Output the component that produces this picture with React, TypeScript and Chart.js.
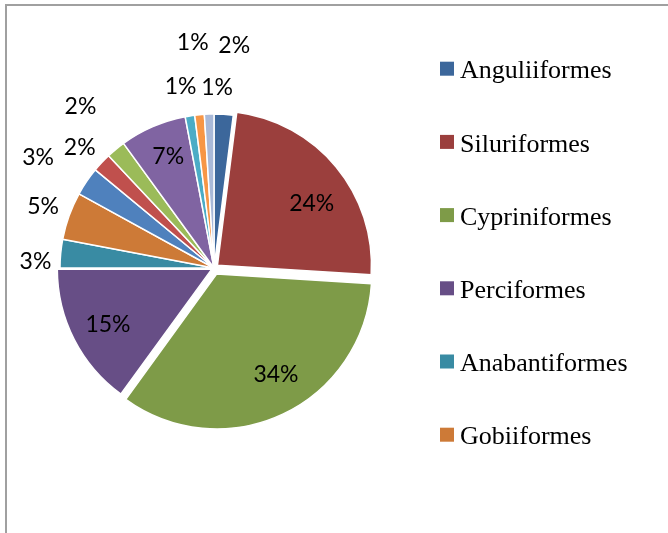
import React, { useEffect, useRef } from "react";
import { Chart, registerables } from "chart.js";

Chart.register(...registerables);

// ---- data ----
const categories = [
  "Anguliiformes",
  "Siluriformes",
  "Cypriniformes",
  "Perciformes",
  "Anabantiformes",
  "Gobiiformes",
  "7",
  "8",
  "9",
  "10",
  "11",
  "12",
  "13",
];
const percentages = [2, 24, 34, 15, 3, 5, 3, 2, 2, 7, 1, 1, 1];

// ---- styles ----
const sliceColors = [
  "#3C679B",
  "#9B3F3D",
  "#7E9B48",
  "#674E86",
  "#398BA3",
  "#CD7A37",
  "#4F81BD",
  "#C0504D",
  "#9BBB59",
  "#8064A2",
  "#4BACC6",
  "#F79646",
  "#A9B9D8",
];
// Chart.js arc offset (it draws roughly offset/4 px of explosion for big slices)
const explodeOffsets = [0, 18, 26, 10, 0, 0, 0, 0, 0, 0, 0, 0, 0];
// label placement: [distance as fraction of radius, angular nudge in degrees]
const labelPlacement: [number, number][] = [
  [1.45, 1.6],
  [0.76, 6.2],
  [0.8, -5],
  [0.78, -1],
  [1.16, -3.4],
  [1.18, 0],
  [1.35, -2],
  [1.17, -1.4],
  [1.36, 0],
  [0.78, 1],
  [1.2, -1.4],
  [1.47, 0],
  [1.17, 2.8],
];
const legendVisibleCount = 6;

const framePlugin = {
  id: "frame",
  beforeDraw(chart: any) {
    const { ctx, width, height } = chart;
    ctx.save();
    ctx.fillStyle = "#ffffff";
    ctx.fillRect(0, 0, width, height);
    ctx.strokeStyle = "#A0A0A0";
    ctx.lineWidth = 2;
    ctx.strokeRect(6, 5, width + 40, height + 40);
    ctx.restore();
  },
};

const labelPlugin = {
  id: "pctLabels",
  afterDatasetsDraw(chart: any) {
    const { ctx } = chart;
    const meta = chart.getDatasetMeta(0);
    const values = chart.data.datasets[0].data as number[];
    ctx.save();
    ctx.fillStyle = "#000000";
    ctx.font = '23px Lato, "Open Sans", sans-serif';
    ctx.textAlign = "center";
    ctx.textBaseline = "middle";
    meta.data.forEach((arc: any, i: number) => {
      const p = arc.getProps(["x", "y", "startAngle", "endAngle", "outerRadius"], true);
      const [f, nudge] = labelPlacement[i];
      const a = (p.startAngle + p.endAngle) / 2 + (nudge * Math.PI) / 180;
      const d = f * p.outerRadius;
      ctx.fillText(`${values[i]}%`, p.x + Math.cos(a) * d, p.y + Math.sin(a) * d);
    });
    ctx.restore();
  },
};

const legendPlugin = {
  id: "sideLegend",
  afterDraw(chart: any) {
    const { ctx } = chart;
    const labels = chart.data.labels as string[];
    const colors = chart.data.datasets[0].backgroundColor as string[];
    const boxX = 440;
    const textX = 460;
    const firstBaseline = 78.3;
    const rowStep = 73.2;
    ctx.save();
    ctx.font = '26px "Liberation Serif", "Times New Roman", serif';
    ctx.textAlign = "left";
    ctx.textBaseline = "alphabetic";
    for (let i = 0; i < legendVisibleCount; i++) {
      const base = firstBaseline + i * rowStep;
      ctx.fillStyle = colors[i];
      ctx.fillRect(boxX, base - 16.6, 14, 14);
      ctx.fillStyle = "#000000";
      ctx.fillText(labels[i], textX, base);
    }
    ctx.restore();
  },
};

export default function App() {
  const canvasRef = useRef<HTMLCanvasElement | null>(null);

  useEffect(() => {
    if (!canvasRef.current) return;
    const chart = new Chart(canvasRef.current, {
      type: "pie",
      data: {
        labels: categories,
        datasets: [
          {
            data: percentages,
            backgroundColor: sliceColors,
            borderColor: "#ffffff",
            borderWidth: 1.5,
            offset: explodeOffsets,
            radius: 154,
          } as any,
        ],
      },
      options: {
        responsive: false,
        animation: false,
        events: [],
        layout: { padding: { left: 0, right: 240, top: 3, bottom: 0 } },
        plugins: {
          legend: { display: false },
          tooltip: { enabled: false },
        },
      },
      plugins: [framePlugin, labelPlugin, legendPlugin],
    });
    return () => chart.destroy();
  }, []);

  return (
    <div style={{ position: "fixed", left: 0, top: 0, width: 668, height: 533, overflow: "hidden", background: "#fff" }}>
      <canvas ref={canvasRef} width={668} height={533} style={{ display: "block" }} />
    </div>
  );
}
